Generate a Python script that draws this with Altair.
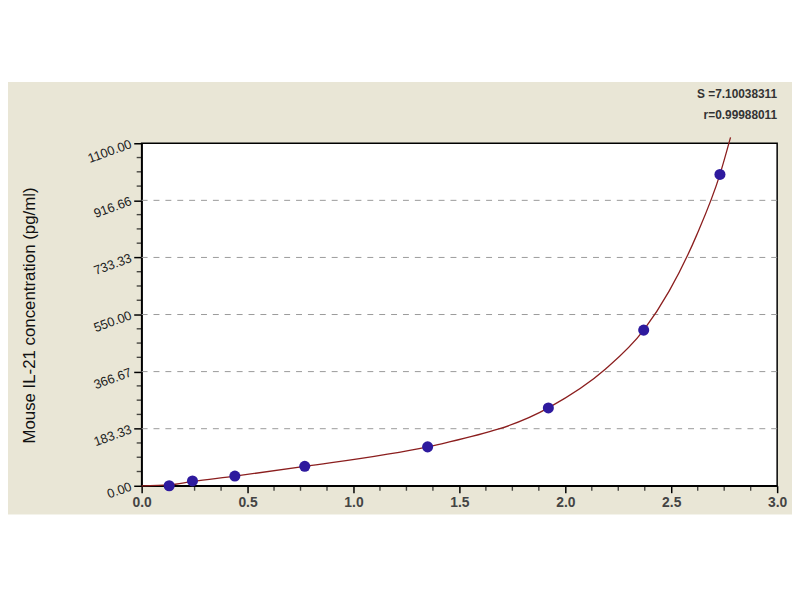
import pandas as pd
import altair as alt

# standards
od = [0.13, 0.24, 0.44, 0.77, 1.35, 1.92, 2.37, 2.73]
conc = [0.0, 15.6, 31.25, 62.5, 125.0, 250.0, 500.0, 1000.0]

# fitted curve
curve_x = [0.0, 0.13, 0.24, 0.44, 0.77, 1.35, 1.43, 1.92, 2.19, 2.37, 2.49, 2.62, 2.73, 2.78]
curve_y = [0.0, 3.0, 14.0, 31.0, 62.0, 125.0, 137.0, 250.0, 375.0, 500.0, 625.0, 805.0, 1000.0, 1119.0]

y_major = [0, 183.33, 366.67, 550, 733.33, 916.66, 1100]
y_grid = [183.33, 366.67, 550, 733.33, 916.66]
y_minor = [45.83, 91.67, 137.5, 229.17, 275.0, 320.83, 412.5, 458.33, 504.17,
           595.83, 641.67, 687.5, 779.17, 825.0, 870.83, 962.5, 1008.33, 1054.17]
x_major = [0.0, 0.5, 1.0, 1.5, 2.0, 2.5, 3.0]
x_minor = [0.125, 0.25, 0.375, 0.625, 0.75, 0.875, 1.125, 1.25, 1.375, 1.625, 1.75, 1.875,
           2.125, 2.25, 2.375, 2.625, 2.75, 2.875]

stat_s = "S =7.10038311"
stat_r = "r=0.99988011"

W, H = 642, 346
FONT = "Liberation Sans"

xs = alt.Scale(domain=[0, 3], nice=False, zero=False)
ys = alt.Scale(domain=[0, 1100], nice=False, zero=False)
one = pd.DataFrame({"a": [0]})

# white bands above and below the beige panel
top_band = alt.Chart(one).mark_rect(color="white").encode(
    x=alt.value(-140), x2=alt.value(W + 20), y=alt.value(-140), y2=alt.value(-62)
)
bottom_band = alt.Chart(one).mark_rect(color="white").encode(
    x=alt.value(-140), x2=alt.value(W + 20), y=alt.value(375), y2=alt.value(420)
)

grid = alt.Chart(pd.DataFrame({"v": y_grid})).mark_rule(
    color="#9a9a9a", strokeDash=[6, 6], strokeWidth=1
).encode(y=alt.Y("v:Q", scale=ys), x=alt.value(0), x2=alt.value(W))

# minor ticks
ytk = alt.Chart(pd.DataFrame({"v": y_minor})).mark_tick(
    color="black", thickness=1.4, size=5, orient="horizontal"
).encode(y=alt.Y("v:Q", scale=ys), x=alt.value(-2.5))
xtk = alt.Chart(pd.DataFrame({"v": x_minor})).mark_tick(
    color="black", thickness=1.4, size=5, orient="vertical"
).encode(x=alt.X("v:Q", scale=xs), y=alt.value(H + 2.5))

curve = alt.Chart(pd.DataFrame({"x": curve_x, "y": curve_y})).mark_line(
    color="#8B1E1E", strokeWidth=1.3, interpolate="monotone"
).encode(
    x=alt.X("x:Q", scale=xs, axis=alt.Axis(
        values=x_major, format=".1f", title=None, grid=False, labelFlush=False,
        domainColor="black", domainWidth=1.5, tickColor="black", tickWidth=1.5, tickSize=7,
        labelFont=FONT, labelFontSize=14, labelFontWeight="bold", labelColor="#444",
        labelPadding=3)),
    y=alt.Y("y:Q", scale=ys, axis=alt.Axis(
        values=y_major, format=".2f", title=None, grid=False, labelFlush=False,
        domainColor="black", domainWidth=1.5, tickColor="black", tickWidth=1.5, tickSize=8,
        labelFont=FONT, labelFontSize=13, labelColor="#222", labelAngle=340,
        labelAlign="right", labelBaseline="middle", labelPadding=3)),
)

points = alt.Chart(pd.DataFrame({"x": od, "y": conc})).mark_point(
    filled=True, shape="circle", size=125, color="#2E1A9E", opacity=1
).encode(x=alt.X("x:Q", scale=xs), y=alt.Y("y:Q", scale=ys))

ytitle = alt.Chart(one).mark_text(
    text="Mouse IL-21 concentration (pg/ml)", angle=270, font=FONT, fontSize=17,
    color="#111", align="center", baseline="middle"
).encode(x=alt.value(-113), y=alt.value(174))

ann_s = alt.Chart(one).mark_text(
    text=stat_s, font=FONT, fontSize=12, fontWeight="bold", color="#333",
    align="right", baseline="middle"
).encode(x=alt.value(W), y=alt.value(-50))
ann_r = alt.Chart(one).mark_text(
    text=stat_r, font=FONT, fontSize=12, fontWeight="bold", color="#333",
    align="right", baseline="middle"
).encode(x=alt.value(W), y=alt.value(-29))

chart = alt.layer(top_band, bottom_band, grid, ytk, xtk, curve, points,
                  ytitle, ann_s, ann_r).properties(
    width=W, height=H,
    autosize=alt.AutoSizeParams(type="none"),
    padding={"left": 135, "top": 134, "right": 15, "bottom": 40},
    background="#E9E6D6",
).configure_view(fill="white", stroke="black", strokeWidth=1.5)

chart.save("out.html", embed_options={"renderer": "svg", "actions": False})
